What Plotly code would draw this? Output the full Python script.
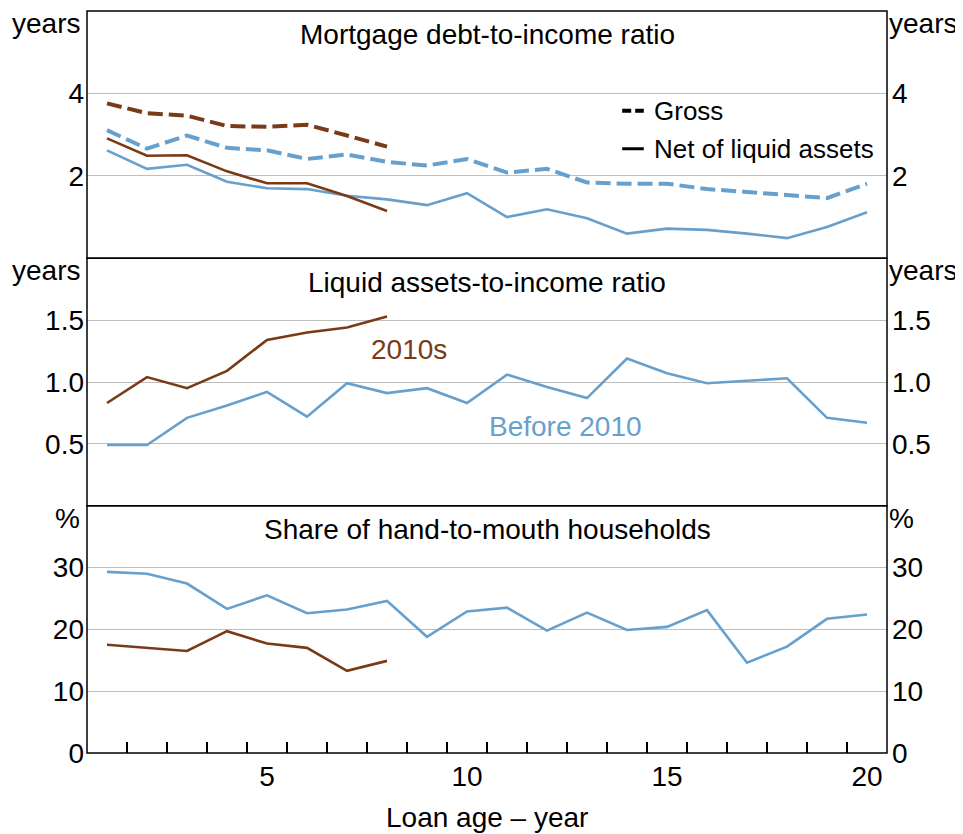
import plotly.graph_objs as go

# loan age (years) and the two cohorts
loan_age = list(range(1, 21))
loan_age_2010s = list(range(1, 9))

# mortgage debt-to-income (years)
gross_pre2010 = [3.11, 2.66, 2.98, 2.68, 2.62, 2.41, 2.52, 2.34, 2.25, 2.41,
                 2.08, 2.17, 1.84, 1.81, 1.81, 1.68, 1.61, 1.53, 1.46, 1.81]
gross_2010s = [3.76, 3.52, 3.46, 3.21, 3.19, 3.24, 2.98, 2.71]
net_pre2010 = [2.62, 2.17, 2.27, 1.86, 1.70, 1.68, 1.52, 1.43, 1.29, 1.58,
               1.00, 1.19, 0.97, 0.60, 0.72, 0.69, 0.60, 0.49, 0.76, 1.12]
net_2010s = [2.91, 2.49, 2.50, 2.11, 1.82, 1.82, 1.51, 1.15]

# liquid assets-to-income (years)
liquid_pre2010 = [0.49, 0.49, 0.71, 0.81, 0.92, 0.72, 0.99, 0.91, 0.95, 0.83,
                  1.06, 0.96, 0.87, 1.19, 1.07, 0.99, 1.01, 1.03, 0.71, 0.67]
liquid_2010s = [0.83, 1.04, 0.95, 1.09, 1.34, 1.40, 1.44, 1.53]

# share of hand-to-mouth households (%)
htm_pre2010 = [29.3, 29.0, 27.4, 23.3, 25.5, 22.6, 23.2, 24.6, 18.8, 22.9,
               23.5, 19.8, 22.7, 19.9, 20.4, 23.1, 14.6, 17.2, 21.7, 22.4]
htm_2010s = [17.5, 17.0, 16.5, 19.7, 17.7, 17.0, 13.3, 14.9]

# axis ticks per panel
ticks_p1 = [2, 4]
ticks_p2 = [0.5, 1.0, 1.5]
ticktext_p2 = ["0.5", "1.0", "1.5"]
ticks_p3 = [0, 10, 20, 30]
xticks = [5, 10, 15, 20]

BLUE = "#67A0CD"
BROWN = "#7A3A17"
FONT = "Liberation Sans, Arial, sans-serif"
FS = 28

fig = go.Figure()

def line(x, y, color, yaxis, dash=None, width=2.6):
    fig.add_trace(go.Scatter(
        x=x, y=y, mode="lines", yaxis=yaxis, showlegend=False,
        line=dict(color=color, width=width, dash=dash)))

DASH = "15px,6px"
line(loan_age, gross_pre2010, BLUE, "y", DASH, 4)
line(loan_age_2010s, gross_2010s, BROWN, "y", DASH, 4)
line(loan_age, net_pre2010, BLUE, "y")
line(loan_age_2010s, net_2010s, BROWN, "y")

line(loan_age, liquid_pre2010, BLUE, "y2")
line(loan_age_2010s, liquid_2010s, BROWN, "y2")

line(loan_age, htm_pre2010, BLUE, "y3")
line(loan_age_2010s, htm_2010s, BROWN, "y3")

# empty traces so the right-hand axes get drawn
for ax in ["y4", "y5", "y6"]:
    fig.add_trace(go.Scatter(x=[None], y=[None], yaxis=ax, showlegend=False))

doms = [[2 / 3, 1], [1 / 3, 2 / 3], [0, 1 / 3]]
ranges = [[0, 6], [0, 2], [0, 40]]
tv = [ticks_p1, ticks_p2, ticks_p3]
tt = [[str(v) for v in ticks_p1], ticktext_p2, [str(v) for v in ticks_p3]]

yax_common = dict(ticks="", showline=False, zeroline=False, automargin=False,
                  tickfont=dict(size=FS, color="black"), tickmode="array")

layout_axes = {}
for i in range(3):
    n = "" if i == 0 else str(i + 1)
    layout_axes["yaxis" + n] = dict(
        yax_common, domain=doms[i], range=ranges[i], anchor="x",
        tickvals=tv[i], ticktext=tt[i], showgrid=True,
        gridcolor="#BEBEBE", gridwidth=1, ticklabelstandoff=2)
    layout_axes["yaxis" + str(i + 4)] = dict(
        yax_common, overlaying="y" + n, side="right", range=ranges[i],
        anchor="x", tickvals=tv[i], ticktext=tt[i], showgrid=False,
        ticklabelstandoff=4)

# page body adds an 8px margin, so the figure is 8px smaller each way
fig.update_layout(
    width=955, height=826,
    margin=dict(l=79, r=76, t=3, b=81, autoexpand=False),
    plot_bgcolor="white", paper_bgcolor="white",
    font=dict(family=FONT, size=FS, color="black"),
    showlegend=False,
    xaxis=dict(
        range=[0.5, 20.5], anchor="y3", showgrid=False, zeroline=False,
        automargin=False,
        tickmode="array", tickvals=xticks, ticks="",
        tickfont=dict(size=FS, color="black"), ticklabelstandoff=4,
        minor=dict(ticks="inside", tickmode="array",
                   tickvals=[a + 0.5 for a in loan_age[:-1]],
                   ticklen=11, tickwidth=1.5, tickcolor="black",
                   showgrid=False)),
    **layout_axes,
)

# panel frames
for d in doms:
    fig.add_shape(type="rect", xref="paper", yref="paper", x0=0, x1=1,
                  y0=d[0], y1=d[1], line=dict(color="black", width=1.5),
                  layer="above")

titles = ["Mortgage debt-to-income ratio", "Liquid assets-to-income ratio",
          "Share of hand-to-mouth households"]
units = ["years", "years", "%"]
for d, t, u in zip(doms, titles, units):
    fig.add_annotation(text=t, xref="paper", yref="paper", x=0.5,
                       y=d[1] - 0.032, yanchor="middle", showarrow=False,
                       font=dict(size=FS))
    fig.add_annotation(text=u, xref="paper", yref="paper", x=-0.006,
                       y=d[1] - 0.017, xanchor="right", yanchor="middle",
                       showarrow=False, font=dict(size=FS))
    fig.add_annotation(text=u, xref="paper", yref="paper", x=1.0,
                       y=d[1] - 0.017, xanchor="left", yanchor="middle",
                       showarrow=False, font=dict(size=FS))

# series labels
fig.add_annotation(text="2010s", x=8.56, y=1.26, xref="x", yref="y2",
                   showarrow=False, font=dict(size=FS, color=BROWN))
fig.add_annotation(text="Before 2010", x=12.46, y=0.64, xref="x", yref="y2",
                   showarrow=False, font=dict(size=FS, color=BLUE))

# legend for panel 1
fig.add_shape(type="line", xref="x", yref="y", x0=13.88, x1=14.42,
              y0=3.58, y1=3.58, line=dict(color="black", width=4, dash="9px,4px"))
fig.add_shape(type="line", xref="x", yref="y", x0=13.88, x1=14.42,
              y0=2.66, y1=2.66, line=dict(color="black", width=3))
fig.add_annotation(text="Gross", x=14.62, y=3.58, xref="x", yref="y",
                   xanchor="left", showarrow=False, font=dict(size=26))
fig.add_annotation(text="Net of liquid assets", x=14.62, y=2.66, xref="x",
                   yref="y", xanchor="left", showarrow=False,
                   font=dict(size=26))

fig.add_annotation(text="Loan age \u2013 year", xref="paper", yref="paper",
                   x=0.5, y=-0.087, yanchor="middle", showarrow=False,
                   font=dict(size=FS))

fig.write_html("out.html")
